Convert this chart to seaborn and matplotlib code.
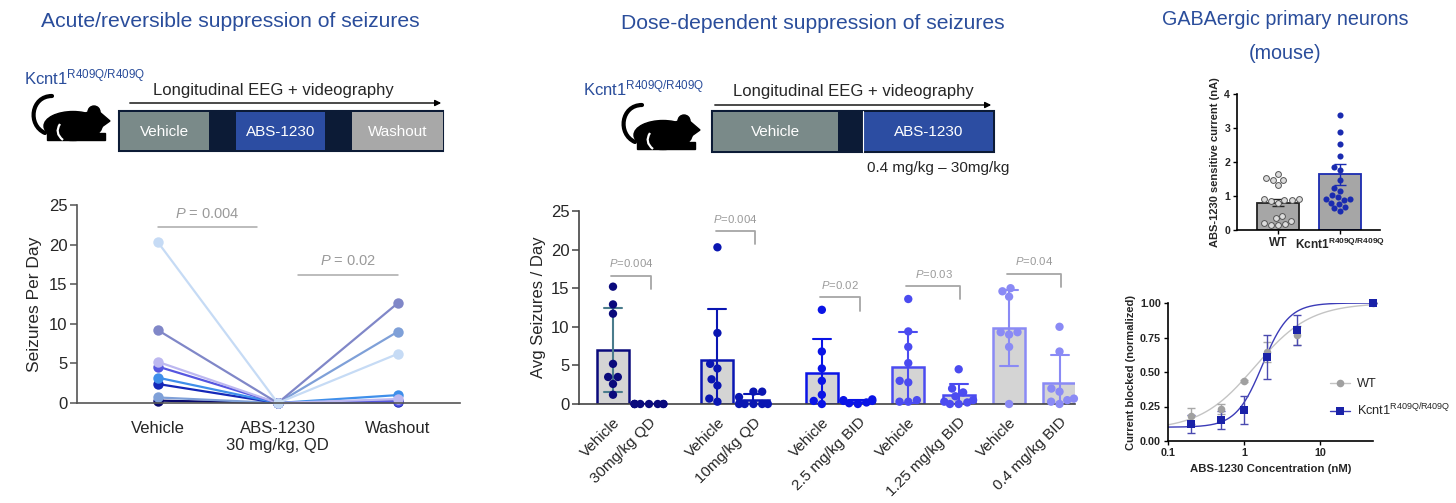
import warnings
warnings.filterwarnings("ignore")
import numpy as np
import pandas as pd
import matplotlib
matplotlib.use("Agg")
import matplotlib.pyplot as plt
import seaborn as sns
from matplotlib.patches import Rectangle, Ellipse, Circle, Polygon, PathPatch, FancyArrowPatch
from matplotlib.path import Path
from matplotlib.lines import Line2D

# ---------------- data ----------------
# Panel A: acute / reversible suppression (per animal)
a_phases = ["Vehicle", "ABS-1230\n30 mg/kg, QD", "Washout"]
a_vehicle = [20.3, 9.2, 5.2, 4.6, 3.2, 2.4, 0.7, 0.3]
a_abs1230 = [0, 0, 0, 0, 0, 0, 0, 0]
a_washout = [6.2, 12.6, 0.5, 0.2, 1.0, 0.1, 9.0, 0.2]
a_pvals = ["0.004", "0.02"]

# Panel B: dose-dependent suppression
b_labels = ["Vehicle", "30mg/kg QD", "Vehicle", "10mg/kg QD", "Vehicle", "2.5 mg/kg BID",
            "Vehicle", "1.25 mg/kg BID", "Vehicle", "0.4 mg/kg BID"]
b_points = [
    [15.2, 12.9, 11.7, 5.2, 3.5, 3.5, 2.6, 1.2],
    [0, 0, 0, 0, 0, 0, 0, 0],
    [20.3, 9.2, 5.2, 4.6, 3.2, 2.4, 0.7, 0.3],
    [1.6, 1.6, 0.9, 0, 0, 0, 0, 0],
    [12.2, 6.8, 4.6, 3.0, 1.2, 0.4, 0.0],
    [0.6, 0.5, 0.4, 0.4, 0.2, 0.1, 0.0],
    [13.6, 9.4, 7.4, 5.3, 3.0, 2.8, 0.5, 0.3, 0.3],
    [4.5, 2.0, 1.5, 1.0, 0.5, 0.3, 0.2, 0.0, 0.0],
    [15.0, 14.6, 13.9, 9.3, 9.3, 9.0, 7.4, 0.0],
    [10.0, 6.8, 2.0, 1.6, 0.7, 0.5, 0.3, 0.0],
]
b_pvals = ["0.004", "0.004", "0.02", "0.03", "0.04"]

# Panel C: ABS-1230 sensitive current (nA)
c_groups = ["WT", "Kcnt1$^{\\mathregular{R409Q/R409Q}}$"]
c_means = [0.80, 1.64]
c_sem = [0.10, 0.31]
c_wt = [1.47, 1.54, 1.32, 1.65, 1.47, 0.80, 0.88, 0.91, 0.85, 0.88, 0.90,
        0.34, 0.26, 0.42, 0.20, 0.15, 0.15, 0.18]
c_ko = [3.38, 2.87, 2.54, 2.18, 1.86, 1.76, 1.47, 1.25, 1.16, 1.03, 0.96, 0.91,
        0.88, 0.90, 0.80, 0.76, 0.67, 0.64, 0.55]

# Panel D: concentration-response
d_conc = [0.2, 0.5, 1, 2, 5, 50]
d_wt = [0.18, 0.23, 0.435, 0.645, 0.765, 1.0]
d_wt_err = [0.06, 0.035, 0.01, 0.07, 0.07, 0.0]
d_ko = [0.125, 0.155, 0.225, 0.61, 0.805, 1.0]
d_ko_err = [0.065, 0.065, 0.10, 0.16, 0.11, 0.0]
# fitted 4-parameter logistic curves (bottom, top, EC50, hill)
d_wt_fit = (0.08, 1.0, 1.4, 1.2)
d_ko_fit = (0.10, 1.0, 1.75, 2.5)

# ---------------- style ----------------
sns.set_style("ticks")
plt.rcParams["font.family"] = ["Liberation Sans", "DejaVu Sans"]
plt.rcParams["mathtext.fontset"] = "custom"
plt.rcParams["mathtext.rm"] = "Liberation Sans"
plt.rcParams["mathtext.it"] = "Liberation Sans:italic"
plt.rcParams["mathtext.bf"] = "Liberation Sans:bold"

TITLE_BLUE = "#2A4D9B"
GRAY_TXT = "#9a9a9a"
W, H = 1456, 503
fig = plt.figure(figsize=(W / 100, H / 100), dpi=100)


def px_axes(x0, y_top, x1, y_bot):
    return fig.add_axes([x0 / W, 1 - y_bot / H, (x1 - x0) / W, (y_bot - y_top) / H])


# ---------------- overlay (titles, schematic) ----------------
ov = fig.add_axes([0, 0, 1, 1])
ov.set_xlim(0, W)
ov.set_ylim(H, 0)
ov.axis("off")

ov.text(230, 21, "Acute/reversible suppression of seizures", color=TITLE_BLUE, fontsize=15.2,
        ha="center", va="center")
ov.text(813, 23, "Dose-dependent suppression of seizures", color=TITLE_BLUE, fontsize=15.2,
        ha="center", va="center")
ov.text(1285, 19, "GABAergic primary neurons", color=TITLE_BLUE, fontsize=14.2,
        ha="center", va="center")
ov.text(1285, 53, "(mouse)", color=TITLE_BLUE, fontsize=14.2, ha="center", va="center")


def draw_mouse(x0, y0):
    tail = Path([(x0 + 12, y0 + 38), (x0 - 6, y0 + 30), (x0 - 2, y0 + 1), (x0 + 19, y0 + 1)],
                [Path.MOVETO, Path.CURVE4, Path.CURVE4, Path.CURVE4])
    ov.add_patch(PathPatch(tail, fill=False, lw=3.0, ec="black", capstyle="round"))
    ov.add_patch(Ellipse((x0 + 40, y0 + 31), 58, 29, color="black"))
    ov.add_patch(Polygon([(x0 + 50, y0 + 19), (x0 + 63, y0 + 14), (x0 + 77, y0 + 26),
                          (x0 + 70, y0 + 31), (x0 + 58, y0 + 42)], closed=True, color="black"))
    ov.add_patch(Circle((x0 + 61, y0 + 17), 6, color="black"))
    ov.add_patch(Rectangle((x0 + 14, y0 + 38), 58, 7, color="black"))
    leg = Path([(x0 + 27, y0 + 29), (x0 + 21, y0 + 38), (x0 + 30, y0 + 45)],
               [Path.MOVETO, Path.CURVE3, Path.CURVE3])
    ov.add_patch(PathPatch(leg, fill=False, lw=1.6, ec="white"))


def kcnt_label(x, y):
    ov.text(x, y, "Kcnt1$^{\\mathregular{R409Q/R409Q}}$", color=TITLE_BLUE, fontsize=12,
            ha="left", va="center")


def arrow(x0, x1, y):
    ov.add_patch(FancyArrowPatch((x0, y), (x1, y), arrowstyle="-|>", mutation_scale=9,
                                 lw=1.0, color="black"))


def seg(x0, x1, y0, y1, color, label=None):
    ov.add_patch(Rectangle((x0, y0), x1 - x0, y1 - y0, facecolor=color, edgecolor="none"))
    if label:
        ov.text((x0 + x1) / 2, (y0 + y1) / 2 + 1, label, color="white", fontsize=11,
                ha="center", va="center")


NAVY = "#0C1B36"
VEH = "#7A8A89"
ABS = "#2C4DA2"
WASH = "#A8A8A8"

# left schematic
kcnt_label(24, 77)
draw_mouse(33, 95)
ov.text(273, 90, "Longitudinal EEG + videography", fontsize=12, ha="center", va="center")
arrow(127, 444, 103)
ov.add_patch(Rectangle((119, 111), 324, 40, facecolor=NAVY, edgecolor=NAVY, lw=1.5))
seg(120, 209, 112, 150, VEH, "Vehicle")
seg(236, 325, 112, 150, ABS, "ABS-1230")
seg(352, 443, 112, 150, WASH, "Washout")

# middle schematic
kcnt_label(583, 88)
draw_mouse(623, 104)
ov.text(853, 91, "Longitudinal EEG + videography", fontsize=12, ha="center", va="center")
arrow(712, 994, 105)
ov.add_patch(Rectangle((712, 111), 282, 41, facecolor=NAVY, edgecolor=NAVY, lw=1.5))
seg(713, 838, 112, 151, VEH, "Vehicle")
ov.plot([863, 863], [111, 152], color="white", lw=0.8)
seg(864, 993, 112, 151, ABS, "ABS-1230")
ov.text(938, 168, "0.4 mg/kg \u2013 30mg/kg", fontsize=11, ha="center", va="center")

# ---------------- Panel A ----------------
a_colors = ["#C6DBF5", "#8087C8", "#BDB8F0", "#5656E0", "#3F8FEA", "#1528B8", "#7FA0D8", "#0A0A6E"]
series = [a_vehicle, a_abs1230, a_washout]
rowsA = []
for i in reversed(range(len(a_vehicle))):
    for j in range(3):
        rowsA.append(("m%d" % i, j, series[j][i]))
dfA = pd.DataFrame(rowsA, columns=["animal", "phase", "value"])
hue_order = ["m%d" % i for i in reversed(range(len(a_vehicle)))]

axA = px_axes(77, 205, 460, 403)
sns.lineplot(data=dfA, x="phase", y="value", hue="animal", hue_order=hue_order,
             palette=a_colors[::-1], marker="o", markersize=7.5, markeredgewidth=0,
             linewidth=1.6, legend=False, estimator=None, sort=False, ax=axA)
for ln in axA.lines:
    ln.set_clip_on(False)
axA.set_xlim(-0.675, 2.52)
axA.set_ylim(0, 25)
axA.set_yticks([0, 5, 10, 15, 20, 25])
axA.set_xticks([0, 1, 2])
axA.set_xticklabels(a_phases, fontsize=12)
axA.tick_params(axis="x", length=0, pad=13)
axA.tick_params(axis="y", labelsize=12, length=5, width=1.1, color="#555555", pad=2)
axA.set_xlabel("")
axA.set_ylabel("Seizures Per Day", fontsize=12.5, labelpad=5)
sns.despine(ax=axA)
for s in ["left", "bottom"]:
    axA.spines[s].set_color("#555555")
    axA.spines[s].set_linewidth(1.2)
axA.plot([0, 0.83], [22.2, 22.2], color="#aaaaaa", lw=1.1)
axA.text(0.415, 23.9, "$\\mathit{P}$ = " + a_pvals[0], color=GRAY_TXT, fontsize=10.5,
         ha="center", va="center")
axA.plot([1.17, 2.0], [16.2, 16.2], color="#aaaaaa", lw=1.1)
axA.text(1.585, 17.9, "$\\mathit{P}$ = " + a_pvals[1], color=GRAY_TXT, fontsize=10.5,
         ha="center", va="center")

# ---------------- Panel B ----------------
b_pos = [0, 1, 2.9, 3.9, 5.8, 6.8, 8.2, 9.6, 11.0, 12.4]
grp_colors = ["#0A0A7C", "#0A16B2", "#0A14E6", "#4B4BF0", "#8A8AF5"]
bar_colors = [grp_colors[i // 2] for i in range(len(b_pos))]
rowsB = [(b_pos[i], v) for i, pts in enumerate(b_points) for v in pts]
dfB = pd.DataFrame(rowsB, columns=["pos", "value"])

axB = px_axes(579, 211, 1075, 404)
sns.barplot(data=dfB, x="pos", y="value", native_scale=True, errorbar="sd", width=0.89,
            capsize=0.5, color="#d4d4d4", saturation=1, linewidth=1.8, edgecolor="black",
            err_kws={"linewidth": 1.5}, ax=axB)


def nearest(x):
    return int(np.argmin([abs(x - p) for p in b_pos]))


for p in axB.patches:
    k = nearest(p.get_x() + p.get_width() / 2)
    p.set_edgecolor(bar_colors[k])
for ln in axB.lines:
    xd = np.asarray(ln.get_xdata(), dtype=float)
    k = nearest(np.nanmean(xd))
    ln.set_color("#4A7C8C" if k == 0 else bar_colors[k])
    ln.set_zorder(3)

pal = {p: c for p, c in zip(b_pos, bar_colors)}
n_coll = len(axB.collections)
sns.swarmplot(data=dfB, x="pos", y="value", native_scale=True, hue="pos", palette=pal,
              size=6.0, linewidth=0, legend=False, ax=axB)
for c in axB.collections[n_coll:]:
    c.set_clip_on(False)
    c.set_zorder(4)
axB.set_xlim(-0.944, 12.83)
axB.set_ylim(0, 25)
axB.set_yticks([0, 5, 10, 15, 20, 25])
axB.set_xticks(b_pos)
axB.set_xticklabels(b_labels, rotation=45, ha="right", rotation_mode="anchor", fontsize=11)
axB.tick_params(axis="x", length=0, pad=8)
axB.tick_params(axis="y", labelsize=12, length=5, width=1.1, color="#444444", pad=2)
axB.set_xlabel("")
axB.set_ylabel("Avg Seizures / Day", fontsize=12, labelpad=3)
sns.despine(ax=axB)
for s in ["left", "bottom"]:
    axB.spines[s].set_color("#444444")
    axB.spines[s].set_linewidth(1.2)
bracket_y = [16.6, 22.4, 13.8, 15.3, 16.9]
for k in range(5):
    x1, x2 = b_pos[2 * k] - 0.05, b_pos[2 * k + 1] + 0.05
    y = bracket_y[k]
    axB.plot([x1, x2, x2], [y, y, y - 1.7], color="#a6a6a6", lw=1.3)
    axB.text((x1 + x2) / 2, y + 1.6, "$\\mathit{P}$=" + b_pvals[k], color=GRAY_TXT,
             fontsize=8.2, ha="center", va="center")

# ---------------- Panel C ----------------
axC = px_axes(1237, 94, 1380, 230)
sns.barplot(x=c_groups, y=c_means, order=c_groups, color="#a6a6a6", saturation=1,
            width=0.68, linewidth=1.3, edgecolor="black", errorbar=None, ax=axC)
c_edges = ["#222222", "#1A2BB0"]
for p, ec in zip(axC.patches, c_edges):
    p.set_edgecolor(ec)
for i in range(2):
    axC.errorbar([i], [c_means[i]], yerr=[c_sem[i]], fmt="none", ecolor=c_edges[i],
                 elinewidth=1.0, capsize=4, capthick=1.0, zorder=3)
n_coll = len(axC.collections)
sns.swarmplot(x=[c_groups[0]] * len(c_wt), y=c_wt, order=c_groups, color="#dcdcdc",
              edgecolor="#555555", linewidth=0.7, size=4.2, ax=axC)
sns.swarmplot(x=[c_groups[1]] * len(c_ko), y=c_ko, order=c_groups, color="#1A2BB0",
              linewidth=0, size=4.4, ax=axC)
for c in axC.collections[n_coll:]:
    c.set_zorder(4)
axC.set_xlim(-0.66, 1.65)
axC.set_ylim(0, 4)
axC.set_yticks([0, 1, 2, 3, 4])
axC.set_xticks([0, 1])
axC.set_xticklabels(c_groups, fontsize=8.6, fontweight="bold")
axC.tick_params(axis="y", labelsize=7.6, length=3, width=1.0, color="black", pad=2)
axC.tick_params(axis="x", length=3, width=1.0, color="black", pad=2)
for t in axC.get_yticklabels():
    t.set_fontweight("bold")
axC.set_ylabel("ABS-1230 sensitive current (nA)", fontsize=8.0, fontweight="bold", labelpad=3)
sns.despine(ax=axC)
for s in ["left", "bottom"]:
    axC.spines[s].set_color("black")
    axC.spines[s].set_linewidth(1.2)

# ---------------- Panel D ----------------
axD = px_axes(1168, 303, 1373, 441)
axD.set_xscale("log")
xfit = np.logspace(-1, np.log10(50), 300)


def logistic(x, prm):
    b, t, ec, h = prm
    return b + (t - b) / (1 + (ec / x) ** h)


sns.lineplot(x=xfit, y=logistic(xfit, d_wt_fit), color="#c4c4c4", lw=1.0, ax=axD)
sns.lineplot(x=xfit, y=logistic(xfit, d_ko_fit), color="#3b3bb8", lw=1.0, ax=axD)
axD.errorbar(d_conc, d_wt, yerr=d_wt_err, fmt="none", ecolor="#a8a8a8", elinewidth=1.0,
             capsize=3, capthick=1.0, zorder=3, clip_on=False)
axD.errorbar(d_conc, d_ko, yerr=d_ko_err, fmt="none", ecolor="#4a4ab0", elinewidth=1.0,
             capsize=3, capthick=1.0, zorder=3, clip_on=False)
sns.scatterplot(x=d_conc, y=d_wt, color="#a0a0a0", marker="o", s=30, linewidth=0, ax=axD,
                zorder=4, clip_on=False)
sns.scatterplot(x=d_conc, y=d_ko, color="#1A22A8", marker="s", s=34, linewidth=0, ax=axD,
                zorder=5, clip_on=False)
axD.set_xlim(0.1, 50)
axD.set_ylim(0, 1.0)
axD.set_yticks([0, 0.25, 0.5, 0.75, 1.0])
axD.set_yticklabels(["0.00", "0.25", "0.50", "0.75", "1.00"])
axD.set_xticks([0.1, 1, 10])
axD.set_xticklabels(["0.1", "1", "10"])
axD.xaxis.set_minor_locator(matplotlib.ticker.NullLocator())
axD.tick_params(axis="both", labelsize=7.8, length=3, width=1.0, color="black", pad=2)
for t in axD.get_yticklabels() + axD.get_xticklabels():
    t.set_fontweight("bold")
axD.set_xlabel("ABS-1230 Concentration (nM)", fontsize=8.2, fontweight="bold", labelpad=4)
axD.set_ylabel("Current blocked (normalized)", fontsize=8.0, fontweight="bold", labelpad=3)
sns.despine(ax=axD)
for s in ["left", "bottom"]:
    axD.spines[s].set_color("black")
    axD.spines[s].set_linewidth(1.2)
handles = [Line2D([], [], color="#c4c4c4", marker="o", markerfacecolor="#a0a0a0",
                  markeredgewidth=0, markersize=5.5, lw=1.0),
           Line2D([], [], color="#3b3bb8", marker="s", markerfacecolor="#1A22A8",
                  markeredgewidth=0, markersize=5.5, lw=1.0)]
axD.legend(handles, ["WT", "Kcnt1$^{\\mathregular{R409Q/R409Q}}$"], loc="upper left",
           bbox_to_anchor=(1330 / W, 1 - 378 / H), bbox_transform=fig.transFigure,
           frameon=False, fontsize=9.2, handlelength=1.6, labelspacing=0.9, handletextpad=0.5,
           borderaxespad=0, borderpad=0)

fig.savefig("out.png", dpi=100)
